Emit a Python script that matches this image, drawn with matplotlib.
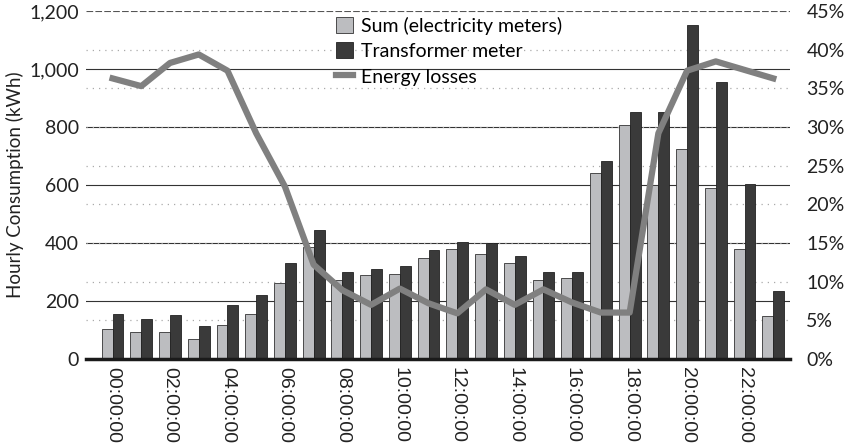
import matplotlib.pyplot as plt
import numpy as np
from matplotlib.ticker import FuncFormatter

hours = [f'{h:02d}:00:00' for h in range(24)]

# Hourly consumption (kWh)
sum_meters = [102, 92, 92, 70, 118, 155, 261, 387, 272, 289, 293, 348,
              379, 362, 330, 271, 278, 640, 806, 600, 723, 591, 379, 149]
transformer = [155, 139, 150, 113, 187, 220, 331, 444, 300, 310, 322, 375,
               405, 400, 356, 299, 299, 682, 852, 852, 1152, 954, 602, 236]
# Energy losses (%)
losses = [36.3, 35.3, 38.3, 39.4, 37.3, 29.2, 22.3, 12.2, 8.9, 7.0, 9.1, 7.2,
          5.9, 9.0, 7.0, 9.0, 7.3, 6.0, 6.0, 29.2, 37.3, 38.5, 37.4, 36.3]

plt.rcParams['font.family'] = ['Lato', 'DejaVu Sans']

fig = plt.figure(figsize=(8.5, 4.47), dpi=100)
ax = fig.add_axes([0.101, 0.197, 0.828, 0.778])
ax2 = ax.twinx()

x = np.arange(len(hours))
width = 0.38

# grid: solid at left ticks, dotted at every 5% of the right axis
for v in range(200, 1001, 200):
    ax.axhline(v, color='#333333', lw=0.8, zorder=0)
ax.axhline(1200, color='#555555', lw=0.8, ls=(0, (6, 2)), zorder=0)
for p in range(5, 45, 5):
    ax.axhline(p / 45 * 1200, color='#aaaaaa', lw=0.9, ls=(0, (1, 4)), zorder=0)

b1 = ax.bar(x - width / 2, sum_meters, width, color='#bcbdc0', edgecolor='#333333',
            linewidth=0.6, label='Sum (electricity meters)', zorder=2)
b2 = ax.bar(x + width / 2, transformer, width, color='#3a3a3a', edgecolor='#222222',
            linewidth=0.6, label='Transformer meter', zorder=2)

l1, = ax2.plot(x, losses, color='#808080', lw=4.5, label='Energy losses', zorder=3)
ax2.set_zorder(ax.get_zorder() + 1)
ax2.patch.set_visible(False)

ax.set_xlim(-0.93, 23.57)
ax.set_ylim(0, 1200)
ax2.set_ylim(0, 45)
ax.set_yticks(range(0, 1201, 200))
ax.yaxis.set_major_formatter(FuncFormatter(lambda v, p: f'{int(v):,}'))
ax2.set_yticks(range(0, 46, 5))
ax2.set_yticklabels([f'{p}%' for p in range(0, 46, 5)])

ax.set_xticks(x[::2])
ax.set_xticklabels(hours[::2], rotation=270, fontsize=13, family='Liberation Sans')

for a in (ax, ax2):
    for s in ('top', 'left', 'right'):
        a.spines[s].set_visible(False)
    a.tick_params(length=0, labelsize=14, colors='#222222')
ax2.spines['bottom'].set_visible(False)
ax.spines['bottom'].set_linewidth(2.5)
ax.spines['bottom'].set_color('#1a1a1a')
ax.tick_params(axis='x', pad=6)
ax.tick_params(axis='y', pad=5)
ax2.tick_params(axis='y', pad=12)

ax.set_ylabel('Hourly Consumption (kWh)', fontsize=13.5, color='#222222', labelpad=4)

ax2.legend([b1, b2, l1], ['Sum (electricity meters)', 'Transformer meter', 'Energy losses'],
           loc='upper left', bbox_to_anchor=(0.33, 1.035), frameon=False, fontsize=14,
           handlelength=0.9, handleheight=0.9, handletextpad=0.4, labelspacing=0.4)

plt.savefig('out.png', dpi=100)
plt.close()
